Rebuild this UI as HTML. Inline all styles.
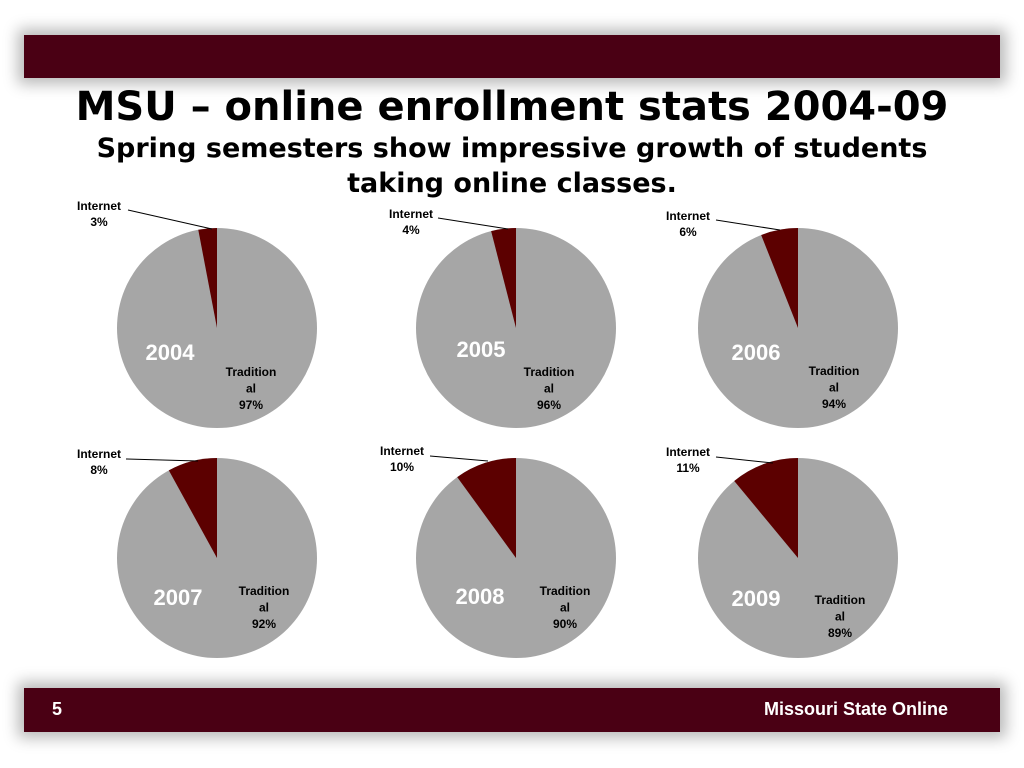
<!DOCTYPE html>
<html><head><meta charset="utf-8"><style>
body{margin:0;width:1024px;height:768px;background:#fff;position:relative;overflow:hidden;font-family:"Liberation Sans",Arial,sans-serif}
.bar{position:absolute;left:24px;width:976px;background:#4a0014;box-shadow:0 0 14px 6px rgba(0,0,0,0.28)}
.title{position:absolute;left:0;width:1024px;text-align:center;font-weight:bold;color:#000;font-family:"DejaVu Sans","Liberation Sans",sans-serif}
</style></head><body>
<div class="bar" style="top:35px;height:43px"></div>
<div class="bar" style="top:688px;height:44px">
 <span style="position:absolute;left:28px;top:11px;color:#fff;font-weight:bold;font-size:18px">5</span>
 <span style="position:absolute;right:52px;top:11px;color:#fff;font-weight:bold;font-size:18px">Missouri State Online</span>
</div>
<div class="title" style="top:84px;font-size:40px">MSU – online enrollment stats 2004-09</div>
<div class="title" style="top:131px;font-size:27px;line-height:35px">Spring semesters show impressive growth of students<br>taking online classes.</div>
<svg id="chart" width="1024" height="768" style="position:absolute;left:0;top:0"></svg>
<script>
const years=["2004","2005","2006","2007","2008","2009"];
const internet=[3,4,6,8,10,11];
const traditional=[97,96,94,92,90,89];
const centers=[[217,328],[516,328],[798,328],[217,558],[516,558],[798,558]];
const lab=[
 {i:[99,206],l:[128,210,212,229],y:[170,360],t:[251,376]},
 {i:[411,214],l:[438,218,508,229],y:[481,357],t:[549,376]},
 {i:[688,216],l:[716,220,780,230],y:[756,360],t:[834,375]},
 {i:[99,454],l:[126,459,198,461],y:[178,605],t:[264,595]},
 {i:[402,451],l:[430,456,488,461],y:[480,604],t:[565,595]},
 {i:[688,452],l:[716,457,773,463],y:[756,606],t:[840,604]}];
const R=100,NS="http://www.w3.org/2000/svg",svg=document.getElementById('chart');
function mk(t,a,txt){const e=document.createElementNS(NS,t);for(const k in a)e.setAttribute(k,a[k]);if(txt!==undefined)e.textContent=txt;svg.appendChild(e);return e;}
function pt(cx,cy,f){const a=-Math.PI/2-f*2*Math.PI;return [cx+R*Math.cos(a),cy+R*Math.sin(a)];}
years.forEach((yr,k)=>{
 const [cx,cy]=centers[k];const tot=internet[k]+traditional[k];const f=internet[k]/tot;
 const c=mk('circle',{cx:cx,cy:cy,r:R,fill:'#a6a6a6'});
 
 
 const p=pt(cx,cy,f);
 const s=mk('path',{d:`M${cx},${cy}L${cx},${cy-R}A${R},${R} 0 ${f>0.5?1:0} 0 ${p[0]},${p[1]}Z`,fill:'#5c0000'});
 
 
 const L=lab[k];
 const ln=mk('line',{x1:L.l[0],y1:L.l[1],x2:L.l[2],y2:L.l[3],stroke:'#000','stroke-width':1});
 
 
 const st={'font-size':12,'font-weight':'bold','text-anchor':'middle','font-family':'Liberation Sans, sans-serif'};
 const a=mk('text',Object.assign({x:L.i[0],y:L.i[1]+4},st),'Internet');
 
 
 const b=mk('text',Object.assign({x:L.i[0],y:L.i[1]+20},st),internet[k]+'%');
 
 
 ['Tradition','al',traditional[k]+'%'].forEach((w,j)=>{
  const t=mk('text',Object.assign({x:L.t[0],y:L.t[1]+j*16.5},st),w);
  
  
 });
 const y=mk('text',{x:L.y[0],y:L.y[1],'font-size':22,'font-weight':'bold',fill:'#fff','text-anchor':'middle','font-family':'Liberation Sans, sans-serif'},yr);
 
 
});
</script>
</body></html>
